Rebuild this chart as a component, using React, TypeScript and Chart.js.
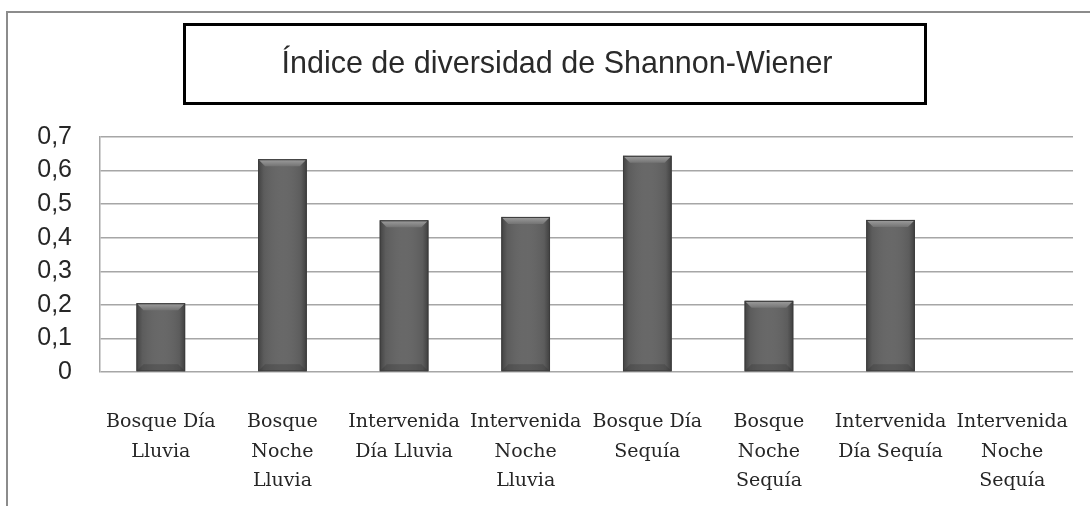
import React, { useEffect, useRef } from "react";
import { Chart, registerables } from "chart.js";

Chart.register(...registerables);

const titleText = "Índice de diversidad de Shannon-Wiener";
const categories: string[][] = [
  ["Bosque Día", "Lluvia"],
  ["Bosque", "Noche", "Lluvia"],
  ["Intervenida", "Día Lluvia"],
  ["Intervenida", "Noche", "Lluvia"],
  ["Bosque Día", "Sequía"],
  ["Bosque", "Noche", "Sequía"],
  ["Intervenida", "Día Sequía"],
  ["Intervenida", "Noche", "Sequía"],
];
const shannonValues: number[] = [0.205, 0.634, 0.452, 0.462, 0.644, 0.212, 0.453, 0];
const yMin = 0;
const yMax = 0.7;
const yStep = 0.1;

const framePlugin = {
  id: "framePlugin",
  beforeDraw(chart: any) {
    const ctx = chart.ctx;
    ctx.save();
    ctx.fillStyle = "#ffffff";
    ctx.fillRect(0, 0, chart.width, chart.height);
    ctx.strokeStyle = "#8c8c8c";
    ctx.lineWidth = 2;
    ctx.beginPath();
    ctx.moveTo(7, chart.height);
    ctx.lineTo(7, 12);
    ctx.lineTo(chart.width, 12);
    ctx.stroke();
    ctx.strokeStyle = "#000000";
    ctx.lineWidth = 3;
    ctx.strokeRect(184.5, 24.5, 741, 79);
    ctx.fillStyle = "#2a2a2a";
    ctx.font = "30.5px 'Liberation Sans', Arial, sans-serif";
    ctx.textAlign = "center";
    ctx.textBaseline = "middle";
    ctx.fillText(titleText, 557, 65);
    ctx.restore();
  },
  afterDatasetsDraw(chart: any) {
    const ctx = chart.ctx;
    const meta = chart.getDatasetMeta(0);
    ctx.save();
    meta.data.forEach((bar: any) => {
      const left = bar.x - bar.width / 2;
      const right = bar.x + bar.width / 2;
      const top = Math.min(bar.y, bar.base);
      const bottom = Math.max(bar.y, bar.base);
      if (bottom - top < 2) return;
      const w = right - left;
      const bev = 7;
      const g = ctx.createLinearGradient(left, 0, right, 0);
      g.addColorStop(0, "rgba(40,40,40,0.55)");
      g.addColorStop(0.12, "rgba(40,40,40,0.1)");
      g.addColorStop(0.5, "rgba(255,255,255,0.04)");
      g.addColorStop(0.88, "rgba(40,40,40,0.1)");
      g.addColorStop(1, "rgba(40,40,40,0.6)");
      ctx.fillStyle = g;
      ctx.fillRect(left, top, w, bottom - top);
      const tg = ctx.createLinearGradient(0, top, 0, top + bev);
      tg.addColorStop(0, "#a0a0a0");
      tg.addColorStop(1, "#747474");
      ctx.fillStyle = tg;
      ctx.beginPath();
      ctx.moveTo(left + 1, top + 1);
      ctx.lineTo(right - 1, top + 1);
      ctx.lineTo(right - bev, top + bev);
      ctx.lineTo(left + bev, top + bev);
      ctx.closePath();
      ctx.fill();
      ctx.fillStyle = "rgba(40,40,40,0.25)";
      ctx.beginPath();
      ctx.moveTo(left + 1, bottom - 1);
      ctx.lineTo(right - 1, bottom - 1);
      ctx.lineTo(right - bev, bottom - bev);
      ctx.lineTo(left + bev, bottom - bev);
      ctx.closePath();
      ctx.fill();
      ctx.strokeStyle = "#3c3c3c";
      ctx.lineWidth = 1;
      ctx.strokeRect(left + 0.5, top + 0.5, w - 1, bottom - top - 1);
    });
    ctx.restore();
  },
};

export default function App() {
  const canvasRef = useRef<HTMLCanvasElement | null>(null);

  useEffect(() => {
    if (!canvasRef.current) return;
    const chart = new Chart(canvasRef.current, {
      type: "bar",
      data: {
        labels: categories,
        datasets: [
          {
            data: shannonValues,
            backgroundColor: "#626262",
            borderWidth: 0,
            barPercentage: 0.4,
            categoryPercentage: 1,
          },
        ],
      },
      options: {
        animation: false,
        responsive: false,
        layout: { padding: { left: 0, right: 17, top: 137, bottom: 0 } },
        plugins: {
          legend: { display: false },
          title: { display: false },
          tooltip: { enabled: false },
        },
        scales: {
          x: {
            grid: { display: false, drawTicks: false },
            border: { display: false },
            ticks: {
              color: "#262626",
              font: { family: "'DejaVu Serif', serif", size: 19, lineHeight: 1.53 },
              padding: 36,
              maxRotation: 0,
              autoSkip: false,
            },
            afterFit(scale: any) {
              scale.height = 134;
              scale.paddingLeft = 0;
              scale.paddingRight = 0;
            },
          },
          y: {
            min: yMin,
            max: yMax,
            grid: { color: "#a6a6a6", lineWidth: 1.5, drawTicks: false },
            border: { display: true, color: "#a6a6a6", width: 1.5 },
            ticks: {
              stepSize: yStep,
              color: "#262626",
              padding: 28,
              font: { family: "'Liberation Sans', Arial, sans-serif", size: 25 },
              callback: (v: any) => (Number(v) === 0 ? "0" : Number(v).toFixed(1).replace(".", ",")),
            },
            afterFit(scale: any) {
              scale.width = 100;
            },
          },
        },
      },
      plugins: [framePlugin],
    });
    return () => chart.destroy();
  }, []);

  return (
    <div style={{ position: "absolute", left: 0, top: 0, width: 1090, height: 506, background: "#fff" }}>
      <canvas ref={canvasRef} width={1090} height={506} />
    </div>
  );
}
